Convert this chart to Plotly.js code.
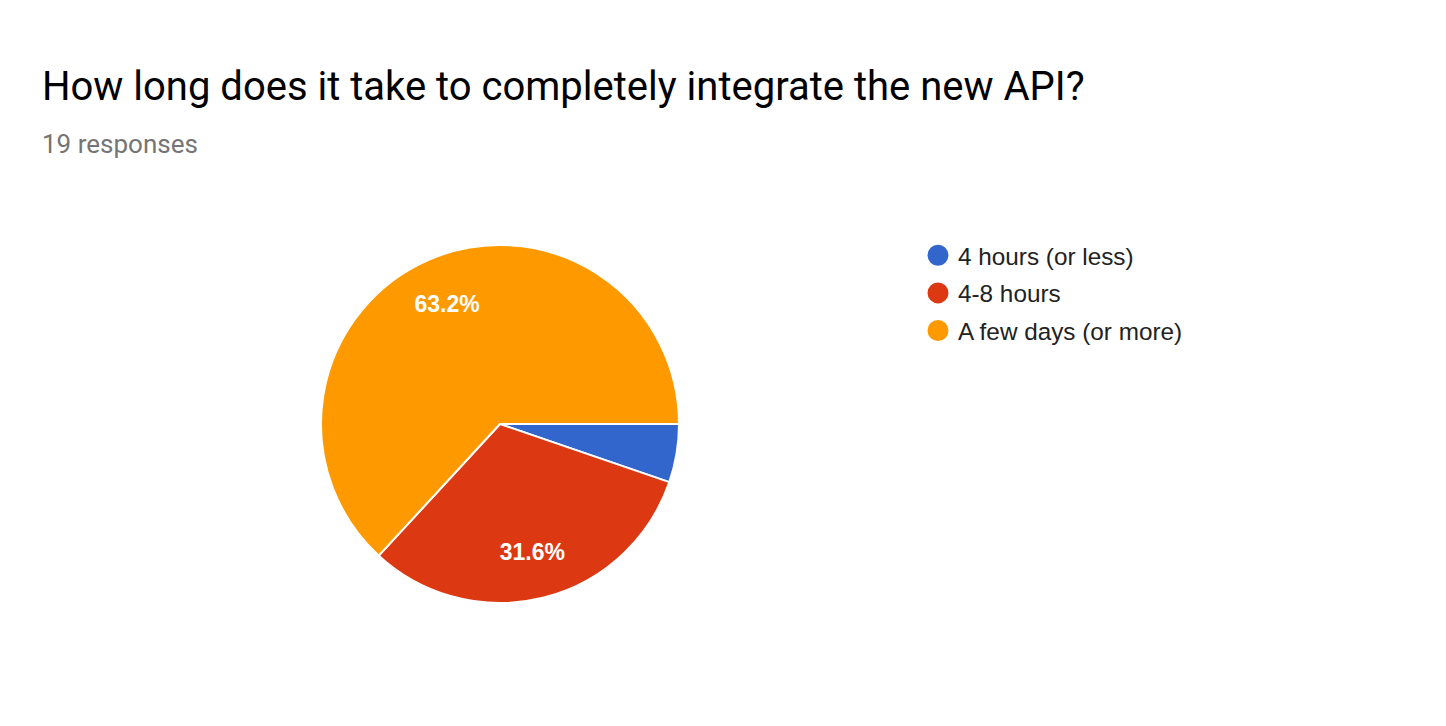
<!DOCTYPE html>
<html>
<head>
<meta charset="utf-8">
<script src="https://cdn.plot.ly/plotly-3.0.1.min.js"></script>
<style>html,body{margin:0;padding:0;background:#fff;}#chart{width:1446px;height:726px;}</style>
</head>
<body>
<div id="chart"></div>
<script>
const categories = ["4 hours (or less)", "4-8 hours", "A few days (or more)"];
const responses = [1, 6, 12];
const colors = ["#3366CC", "#DC3912", "#FF9900"];
const chartTitle = "How long does it take to completely integrate the new API?";
const subtitle = "19 responses";

const total = responses.reduce((a, b) => a + b, 0);
const W = 1446, H = 726;
const pieDomain = { x: [321 / W, 679 / W], y: [1 - 603 / H, 1 - 245 / H] };

const pie = {
  type: "pie",
  labels: categories,
  values: responses,
  sort: false,
  direction: "clockwise",
  rotation: 90,
  marker: { colors: colors, line: { color: "#ffffff", width: 2 } },
  textinfo: "none",
  hoverinfo: "label+percent",
  showlegend: false,
  domain: pieDomain
};

// transparent ring on top, used only to place the percentage labels
const labelRing = {
  type: "pie",
  labels: categories,
  values: responses,
  sort: false,
  direction: "clockwise",
  rotation: 90,
  hole: 0.47,
  marker: { colors: categories.map(() => "rgba(0,0,0,0)"), line: { width: 0 } },
  textposition: responses.map(v => (v / total > 0.06 ? "inside" : "none")),
  texttemplate: "%{percent:.1%}",
  insidetextorientation: "horizontal",
  insidetextfont: { family: "Liberation Sans, Arial, sans-serif", size: 23, color: "#ffffff", weight: "bold" },
  hoverinfo: "skip",
  showlegend: false,
  domain: pieDomain
};

const legendTraces = categories.map((c, i) => ({
  type: "scatter",
  mode: "markers",
  x: [null],
  y: [null],
  name: c,
  legendgroup: "g" + i,
  marker: { color: colors[i], size: 16, symbol: "circle", line: { color: colors[i], width: 5 } },
  showlegend: true,
  hoverinfo: "skip"
}));

const layout = {
  width: W,
  height: H,
  margin: { l: 0, r: 0, t: 0, b: 0 },
  paper_bgcolor: "#ffffff",
  plot_bgcolor: "#ffffff",
  title: {
    text: chartTitle,
    font: { family: "Roboto, sans-serif", size: 40, color: "#000000" },
    x: 42 / W,
    xanchor: "left",
    y: 1 - 86 / H,
    yanchor: "middle",
    xref: "paper",
    yref: "container"
  },
  annotations: [{
    text: subtitle,
    xref: "paper", yref: "paper",
    x: 40 / W, y: 1 - 144 / H,
    xanchor: "left", yanchor: "middle",
    showarrow: false,
    font: { family: "Roboto, sans-serif", size: 26, color: "#757575" }
  }],
  xaxis: { visible: false },
  yaxis: { visible: false },
  showlegend: true,
  legend: {
    x: 918 / W, y: 1 - 233 / H,
    xanchor: "left", yanchor: "top",
    font: { family: "Liberation Sans, Arial, sans-serif", size: 24.3, color: "#222222" },
    tracegroupgap: 3,
    bgcolor: "rgba(0,0,0,0)"
  }
};

Plotly.newPlot("chart", [pie, labelRing, ...legendTraces], layout, { displayModeBar: false, staticPlot: true });
</script>
</body>
</html>
